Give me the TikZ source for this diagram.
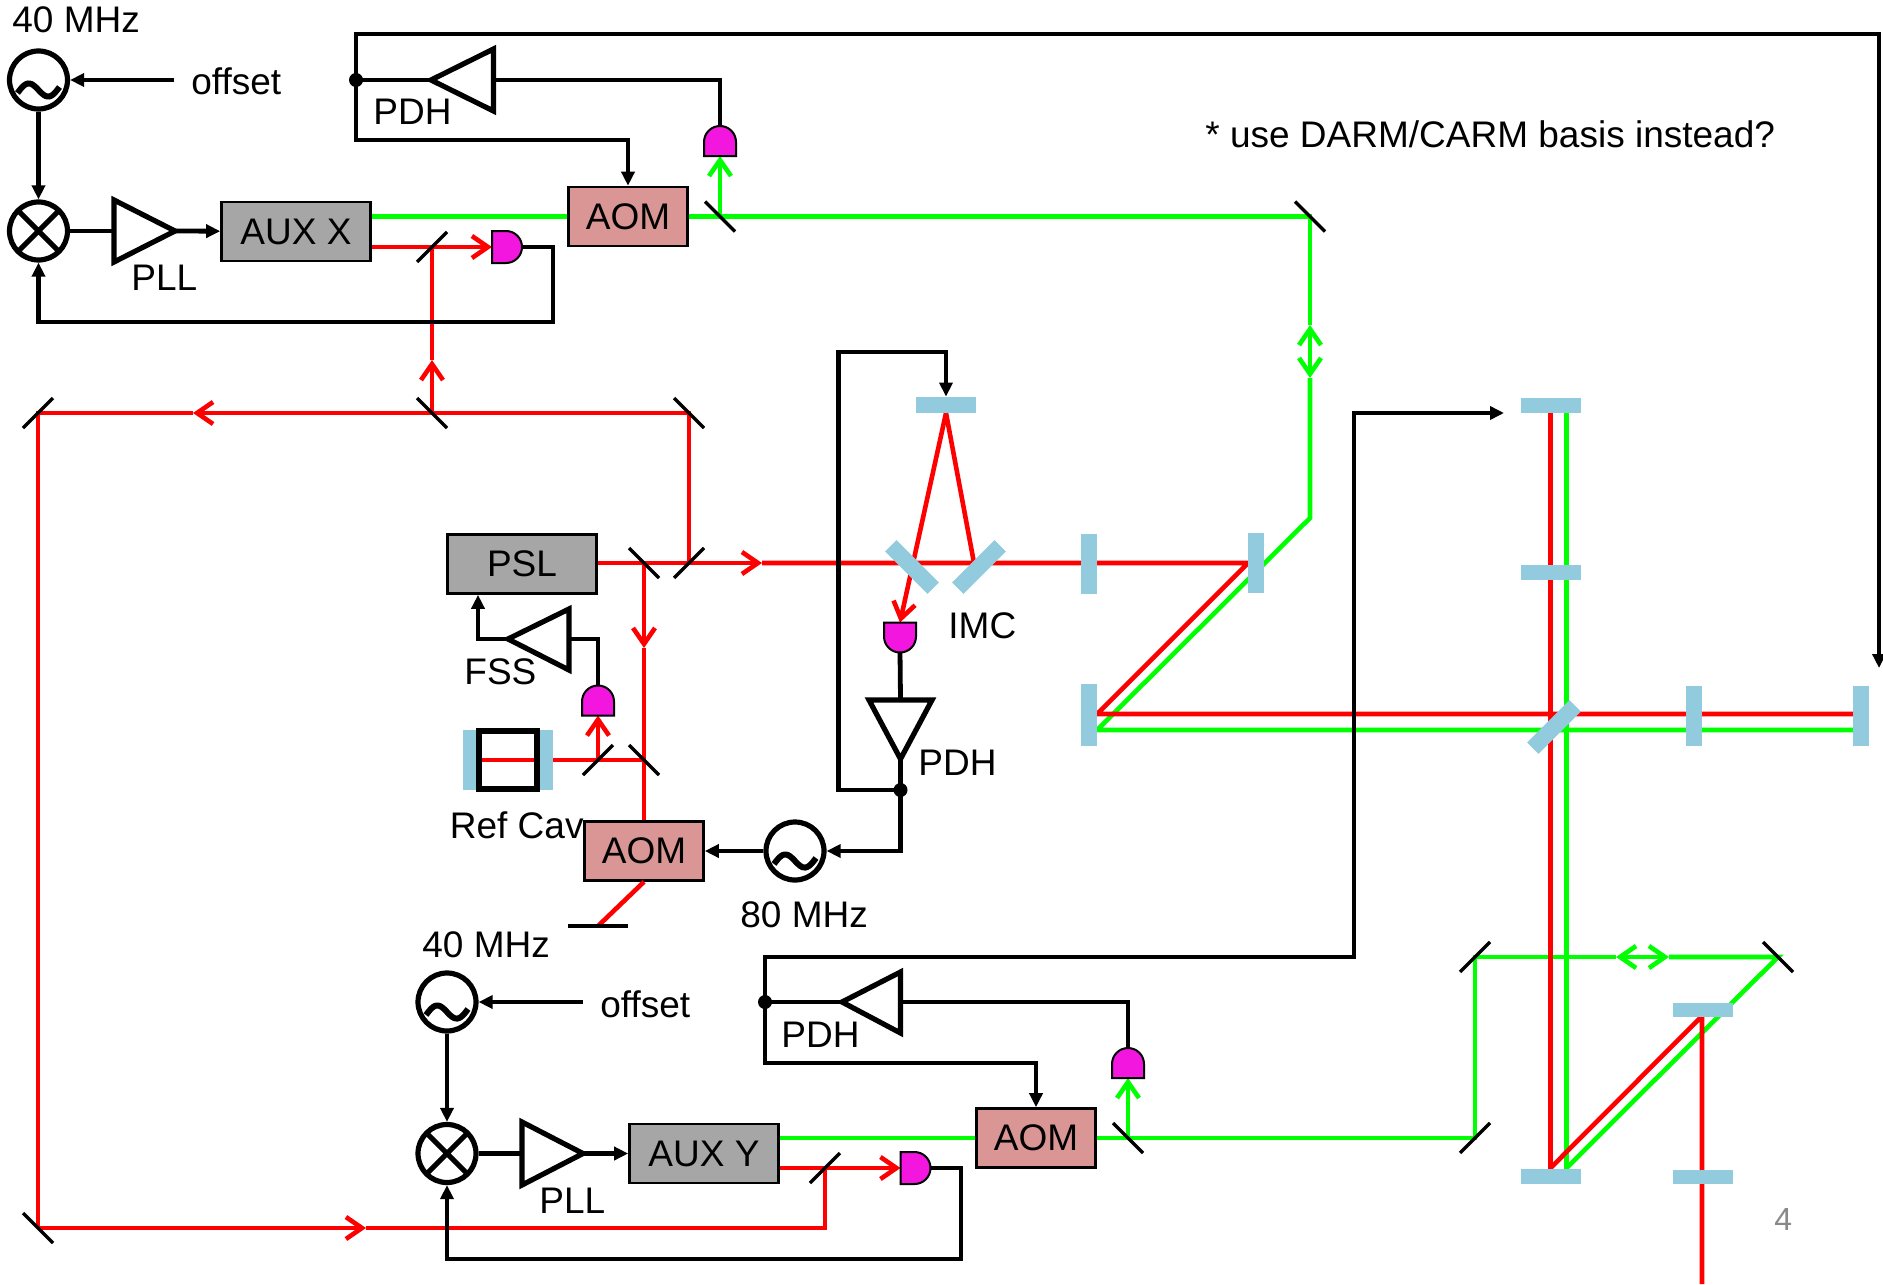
\documentclass[tikz,border=0pt]{standalone}
\usepackage{fontspec}
\setmainfont{Liberation Sans}
\usetikzlibrary{arrows.meta}

\definecolor{lred}{RGB}{255,0,0}
\definecolor{lgreen}{RGB}{0,255,0}
\definecolor{optic}{RGB}{146,203,221}
\definecolor{laser}{RGB}{166,166,166}
\definecolor{aom}{RGB}{217,150,148}
\definecolor{diode}{RGB}{242,22,222}
\definecolor{pagenum}{RGB}{137,137,137}

\tikzset{
  lbl/.style={inner sep=0pt, font=\fontsize{18.5}{22}\selectfont},
  sig/.style={line width=2.4pt},
  sigarr/.style={sig, -{Triangle[length=7pt,width=6.5pt]}},
  red beam/.style={line width=2.3pt, lred},
  green beam/.style={line width=2.3pt, lgreen},
  barb/.style={-{Straight Barb[length=8pt,width=11pt]}},
  dbarb/.style={{Straight Barb[length=8pt,width=11pt]}-{Straight Barb[length=8pt,width=11pt]}},
  mir/.style={line width=1.7pt},
  amp/.style={line width=2.6pt, fill=white, line join=miter},
  box/.style={draw, line width=1.3pt, minimum height=29.5pt, inner sep=0pt, lbl},
  laserbox/.style={box, fill=laser, minimum width=74.5pt},
  aombox/.style={box, fill=aom, minimum width=59.5pt},
  hbar/.style={fill=optic, minimum width=30pt, minimum height=8pt, inner sep=0pt},
  vbar/.style={fill=optic, minimum width=8pt, minimum height=30pt, inner sep=0pt},
  sigdot/.style={circle, fill, inner sep=0pt, minimum size=7pt},
  osc/.style={circle, draw, line width=2.6pt, fill=white, minimum size=29pt, inner sep=0pt,
    path picture={\draw[line width=3pt, shift={(path picture bounding box.center)}]
      plot[domain=-1:1, samples=25, smooth] ({10.5pt*\x},{-5pt-4pt*sin(180*\x)+1.5pt*\x});}},
  mixer/.style={circle, draw, line width=2.6pt, fill=white, minimum size=29pt, inner sep=0pt,
    path picture={\draw[line width=2.6pt]
      (path picture bounding box.north west) -- (path picture bounding box.south east)
      (path picture bounding box.north east) -- (path picture bounding box.south west);}},
  pdfill/.style={draw, fill=diode, line width=1pt},
  pics/pd/.style={code={\draw[pdfill] (-8pt,0pt) -- (-8pt,7pt)
      arc[start angle=180,end angle=0,radius=8pt] -- (8pt,0pt) -- cycle;}}
}

\newcommand{\fmir}[1]{\draw[mir] (#1) ++(-15,15) -- ++(30,-30);}
\newcommand{\bmir}[1]{\draw[mir] (#1) ++(-15,-15) -- ++(30,30);}

\begin{document}
\begin{tikzpicture}[x=0.5pt, y=-0.5pt]
\useasboundingbox (0,0) rectangle (1883,1284);

\node[lbl, anchor=base west] (rct) at (449.5,838) {Ref Cav};

\node[laserbox] (auxx) at (296,231.5) {AUX X};
\node[aombox] (aomx) at (628,216.5) {AOM};
\node[laserbox] (psl) at (522,564) {PSL};
\node[aombox] (aomm) at (644,851) {AOM};
\node[laserbox] (auxy) at (704,1153.5) {AUX Y};
\node[aombox] (aomy) at (1036,1138) {AOM};

\coordinate (pox) at (720,216.5);
\coordinate (mgx) at (1310,216.5);
\coordinate (mgx2) at (1310,518);
\coordinate (bsx1) at (432,247);
\coordinate (mt0) at (38,413);
\coordinate (mt1) at (432,413);
\coordinate (mt2) at (689,413);
\coordinate (bs1) at (644,563);
\coordinate (bs2) at (689,563);
\coordinate (mrc1) at (598,760);
\coordinate (mrc2) at (644,760);
\coordinate (mb0) at (38,1228);
\coordinate (mb1) at (825,1228);
\coordinate (bsy1) at (825,1168);
\coordinate (poy) at (1128,1138);
\coordinate (mgy1) at (1475,1138);
\coordinate (mgy2) at (1475,957);
\coordinate (mgy3) at (1778,957);
\coordinate (imctop) at (946,413);
\coordinate (dump) at (598,926);

\coordinate (pdx) at (492,247);
\coordinate (pdxo) at (522,247);
\coordinate (pdpx) at (720,156);
\coordinate (pdpxo) at (720,127);
\coordinate (pdf) at (598,715.5);
\coordinate (pdfo) at (598,686.5);
\coordinate (pdm) at (900,622.5);
\coordinate (pdmo) at (900,651.5);
\coordinate (pdy) at (900.5,1168);
\coordinate (pdyo) at (930.5,1168);
\coordinate (pdpy) at (1128,1078);
\coordinate (pdpyo) at (1128,1049);

% green
\draw[green beam] (auxx.east |- pox) -- (aomx.west |- pox);
\draw[green beam] (aomx.east) -- (pox) -- (mgx) -- (1310,325);
\draw[green beam, dbarb] (1310,325) -- (1310,378);
\draw[green beam] (1310,378) -- (mgx2) -- (1097,730) -- (1861,730);
\draw[green beam, barb] (pox) -- (pdpx);
\draw[green beam] (auxy.east |- aomy) -- (aomy.west);
\draw[green beam] (1566.5,405) -- (1566.5,1168) -- (mgy3) -- (1669,957);
\draw[green beam, dbarb] (1616,957) -- (1669,957);
\draw[green beam] (1616,957) -- (mgy2) -- (mgy1) -- (aomy.east |- poy);
\draw[green beam, barb] (poy) -- (pdpy);

% red
\draw[red beam] (auxx.east |- bsx1) -- (bsx1);
\draw[red beam, barb] (bsx1) -- (pdx);
\draw[red beam, barb] (mt1) -- (432,360);
\draw[red beam] (432,360) -- (bsx1);
\draw[red beam] (bs2) -- (mt2) -- (mt1);
\draw[red beam, barb] (mt1) -- (193,413);
\draw[red beam] (193,413) -- (mt0) -- (mb0);
\draw[red beam, barb] (mb0) -- (366,1228);
\draw[red beam] (366,1228) -- (mb1) -- (bsy1);
\draw[red beam] (auxy.east |- bsy1) -- (bsy1);
\draw[red beam, barb] (bsy1) -- (pdy);
\draw[red beam, barb] (psl.east |- bs1) -- (762,563);
\draw[red beam] (762,563) -- (1248,563) -- (1097,714) -- (1861,714);
\draw[red beam, barb] (bs1) -- (644,648);
\draw[red beam] (644,648) -- (aomm.north);
\draw[red beam] (mrc2) -- (mrc1) -- (478,760);
\draw[red beam, barb] (mrc1) -- (pdf);
\draw[red beam] (aomm.south) -- (dump);
\draw[red beam] (imctop) -- (974,563);
\draw[red beam, barb] (imctop) -- (pdm);
\draw[red beam] (1550.5,405) -- (1550.5,1168) -- (1702,1016) -- (1702,1284);

% optics
\node[hbar] (imct) at (946,405) {};
\node[hbar, rotate=-45] (imcl) at (912,567) {};
\node[hbar, rotate=45] (imcr) at (979,567) {};
\node[vbar] (prm) at (1088.5,564) {};
\node[vbar] (pr2) at (1256,563) {};
\node[vbar, minimum height=31pt] (pr3) at (1089,715) {};
\node[hbar, rotate=45] (bs) at (1554,727) {};
\node[vbar] (itmx) at (1694,716) {};
\node[vbar] (etmx) at (1861,716) {};
\node[hbar, minimum height=7.5pt] (etmy) at (1551,405) {};
\node[hbar, minimum height=7.5pt] (itmy) at (1551,572) {};
\node[hbar, minimum height=7.5pt] (sr2) at (1551,1176) {};
\node[hbar, minimum height=7pt] (sr3) at (1703,1009.5) {};
\node[hbar, minimum height=7pt] (srm) at (1703,1176.5) {};
\node[vbar, minimum width=7.25pt] (rc1) at (470,760) {};
\node[vbar, minimum width=7.5pt] (rc2) at (545.5,760) {};
\draw[line width=2.6pt] (479,731) rectangle (537,789);

\fmir{bsx1} \fmir{mt0} \fmir{bs2} \fmir{mrc1} \fmir{bsy1} \fmir{mgy1} \fmir{mgy2}
\bmir{pox} \bmir{mgx} \bmir{mt1} \bmir{mt2} \bmir{bs1} \bmir{mrc2} \bmir{mb0} \bmir{poy} \bmir{mgy3}
\draw[mir] (568,926) -- (628,926);

% X end
\node[osc] (oscx) at (38.5,80) {};
\node[mixer] (mixx) at (38.5,231) {};
\coordinate (offx) at (174,80);
\coordinate (pllxi) at (114,231);
\draw[amp] (114,200) -- (175,231) coordinate (pllxo) -- (114,262) -- cycle;
\coordinate (pdhxi) at (493.5,80);
\draw[amp] (493.5,49) -- (431,80) coordinate (pdhxo) -- (493.5,111) -- cycle;
\node[sigdot] (dotx) at (356,80) {};

\draw[sigarr] (offx) -- (oscx);
\draw[sigarr] (oscx) -- (mixx);
\draw[sig] (mixx) -- (pllxi);
\draw[sigarr] (pllxo) -- (auxx);
\draw[sigarr] (pdxo) -- (553,247) -- (553,322) -- (38.5,322) -- (mixx);
\draw[sig] (pdhxo) -- (dotx.center);
\draw[sig] (pdhxi) -- (720,80) -- (pdpxo);
\draw[sigarr] (dotx.center) -- (356,34) -- (1879,34) -- (1879,668);
\draw[sigarr] (dotx.center) -- (356,140) -- (628,140) -- (aomx);

% PSL, FSS, IMC
\node[osc] (osc80) at (795,851) {};
\coordinate (fssi) at (569,639);
\draw[amp] (569,609) -- (508,639) coordinate (fsso) -- (569,670) -- cycle;
\coordinate (pdhmi) at (900.5,700);
\draw[amp] (869,700) -- (900.5,759) coordinate (pdhmo) -- (932,700) -- cycle;
\node[sigdot] (dotm) at (900.5,790) {};

\draw[sig] (pdfo) -- (598,639) -- (fssi);
\draw[sigarr] (fsso) -- (478,639) -- ([xshift=-22pt]psl.south);
\draw[sig] (pdmo) -- (pdhmi);
\draw[sig] (pdhmo) -- (dotm.center);
\draw[sigarr] (dotm.center) -- (900.5,851) -- (osc80);
\draw[sigarr] (osc80) -- (aomm);
\draw[sigarr] (dotm.center) -- (838.5,790) -- (838.5,352) -- (946,352) -- (imct);

% Y end
\node[osc] (oscy) at (447,1002) {};
\node[mixer] (mixy) at (447,1153.5) {};
\coordinate (offy) at (583,1002);
\coordinate (pllyi) at (522,1153.5);
\draw[amp] (522,1122) -- (583,1153.5) coordinate (pllyo) -- (522,1185) -- cycle;
\coordinate (pdhyi) at (900.5,1002);
\draw[amp] (900.5,972) -- (842,1002) coordinate (pdhyo) -- (900.5,1033) -- cycle;
\node[sigdot] (doty) at (765,1002) {};

\draw[sigarr] (offy) -- (oscy);
\draw[sigarr] (oscy) -- (mixy);
\draw[sig] (mixy) -- (pllyi);
\draw[sigarr] (pllyo) -- (auxy);
\draw[sigarr] (pdyo) -- (961,1168) -- (961,1259) -- (447,1259) -- (mixy);
\draw[sig] (pdhyo) -- (doty.center);
\draw[sig] (pdhyi) -- (1128,1002) -- (pdpyo);
\draw[sigarr] (doty.center) -- (765,957) -- (1354,957) -- (1354,413) -- (1504,413);
\draw[sigarr] (doty.center) -- (765,1063) -- (1036,1063) -- (aomy);

\pic[rotate=-90] at (pdx) {pd};
\pic at (pdpx) {pd};
\pic at (pdf) {pd};
\pic[rotate=180] at (pdm) {pd};
\pic[rotate=-90] at (pdy) {pd};
\pic at (pdpy) {pd};

\node[lbl, anchor=base west] (f40x) at (12,33) {40 MHz};
\node[lbl, anchor=base west] (offxt) at (191,95) {offset};
\node[lbl, anchor=base west] (pdhxt) at (373,125) {PDH};
\node[lbl, anchor=base west] (pllxt) at (131,290) {PLL};
\node[lbl, anchor=base west] (note) at (1205,148) {* use DARM/CARM basis instead?};
\node[lbl, anchor=base west] (fsst) at (464,684) {FSS};
\node[lbl, anchor=base west] (imctt) at (948,638) {IMC};
\node[lbl, anchor=base west] (pdhmt) at (918,775) {PDH};
\node[lbl, anchor=base west] (f80) at (740,927) {80 MHz};
\node[lbl, anchor=base west] (f40y) at (422,957) {40 MHz};
\node[lbl, anchor=base west] (offyt) at (600,1017) {offset};
\node[lbl, anchor=base west] (pdhyt) at (781,1047) {PDH};
\node[lbl, anchor=base west] (pllyt) at (539,1213) {PLL};
\node[anchor=base west, inner sep=0pt, font=\fontsize{16}{18}\selectfont, pagenum] (pg) at (1774,1230) {4};

\end{tikzpicture}
\end{document}
